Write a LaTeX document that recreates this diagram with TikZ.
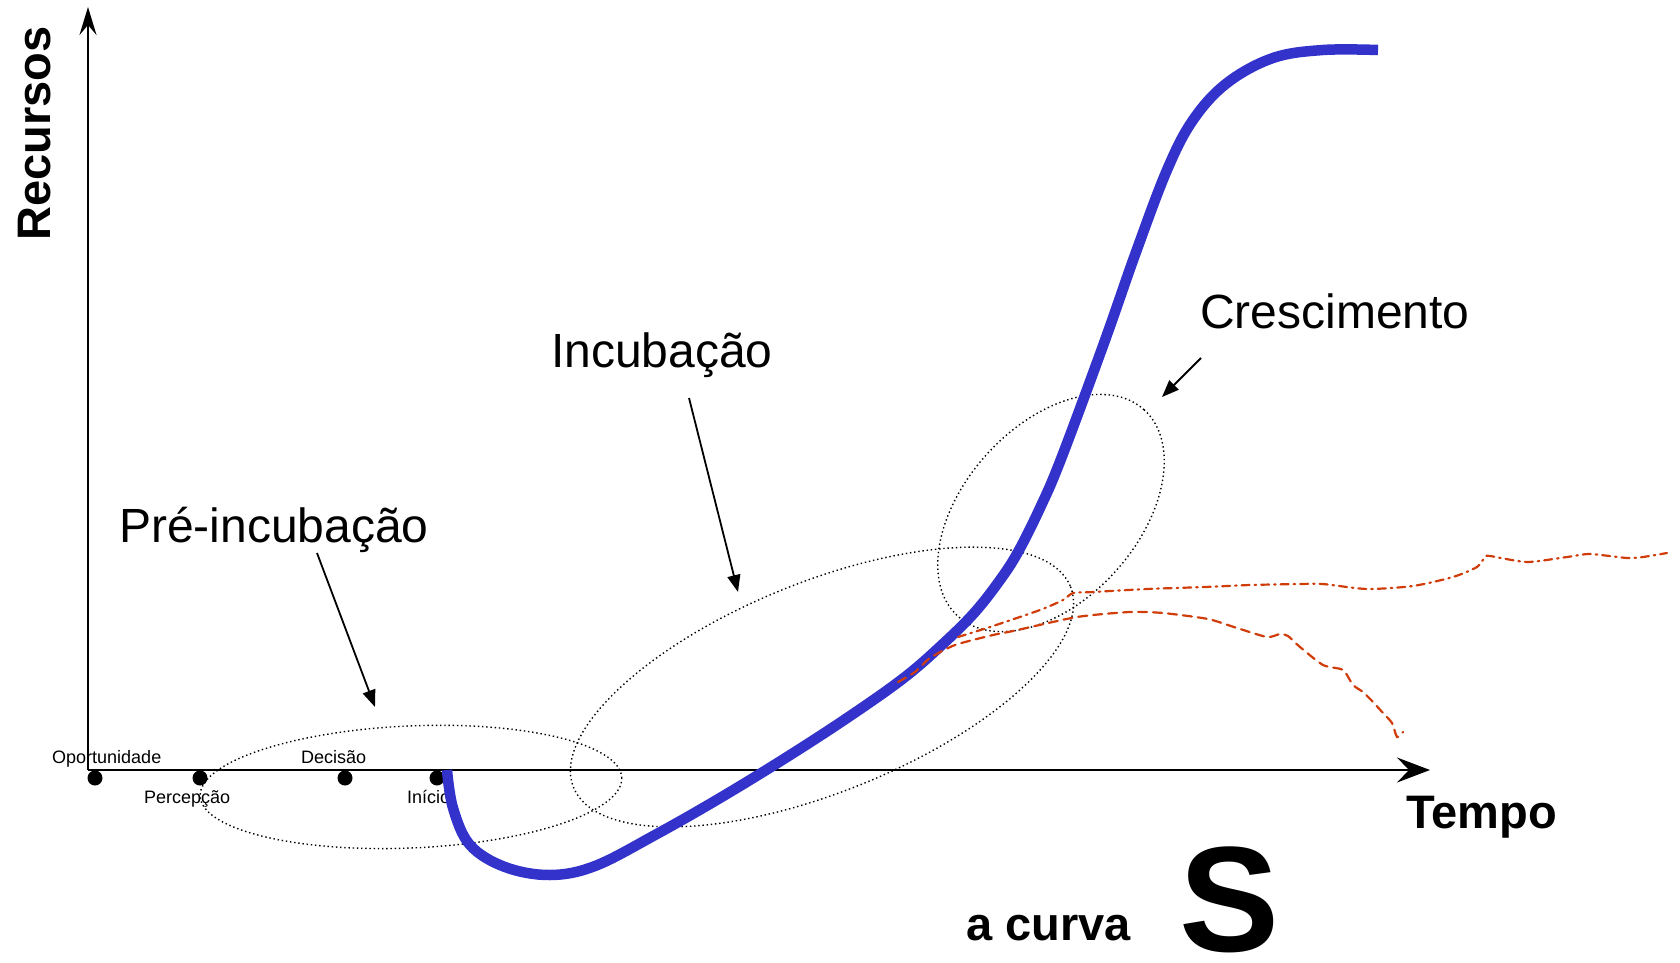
\documentclass[tikz,border=0pt]{standalone}
\usepackage{fontspec}
\setmainfont{Liberation Sans}
\usetikzlibrary{arrows.meta}
\definecolor{curveblue}{RGB}{51,51,204}
\definecolor{trendred}{RGB}{208,60,10}
\tikzset{
	phase/.style={line width=1.4pt, dash pattern=on 1.4pt off 2.8pt},
	phaselabel/.style={anchor=base west, inner sep=0pt, font=\fontsize{48}{48}\selectfont},
	axislabel/.style={anchor=base west, inner sep=0pt, font=\fontsize{47}{47}\selectfont\bfseries},
	milestone/.style={anchor=base west, inner sep=0pt, font=\fontsize{18}{18}\selectfont},
	pointer/.style={line width=1.8pt, -{Triangle[length=17pt,width=13pt]}},
	trend/.style={trendred, line width=2.2pt, line cap=round},
}
\begin{document}
\begin{tikzpicture}[x=1pt,y=-1pt]
		\useasboundingbox (0,0) rectangle (1680,963);
		\coordinate (O) at (88,770);
		\coordinate (ytop) at (88,7);
		\coordinate (xend) at (1430,770);
		\begin{scope}
			\coordinate (D1) at (95,778);
			\coordinate (D2) at (200,778);
			\coordinate (D3) at (345,778);
			\coordinate (D4) at (437,778);
			\coordinate (E1) at (411,787);
			\coordinate (E2) at (822,687);
			\coordinate (E3) at (1051,513);
		\end{scope}
		
		% axes
		\draw[line width=2.6pt, -{Stealth[length=28pt,width=17pt,inset=10pt]}] (O) -- (ytop);
		\draw[line width=2.6pt, -{Stealth[length=33pt,width=25pt,inset=12pt]}] (O) -- (xend);
		\node[axislabel, rotate=90] (recursos) at (50,241) {Recursos};
		\node[axislabel] (tempo) at (1406,828) {Tempo};
		
		% milestones
		\foreach \d in {D1,D2,D3,D4}
			\fill (\d) circle[radius=7.5];
		\node[milestone] (oport) at (52,763) {Oportunidade};
		\node[milestone] (decisao) at (301,763) {Decisão};
		\node[milestone] (percep) at (144,803) {Percepção};
		\node[milestone] (inicio) at (407,803) {Início};
		
		% phases
		\draw[phase, rotate around={2.5:(E1)}] (E1) ellipse [x radius=211, y radius=61];
		\draw[phase, rotate around={22:(E2)}] (E2) ellipse [x radius=268, y radius=105];
		\draw[phase, rotate around={48:(E3)}] (E3) ellipse [x radius=139, y radius=87];
		
		\draw[curveblue, line width=10.5pt] plot[smooth, tension=0.6] coordinates {
			(447,770) (453,808) (470,845) (505,867) (550,875) (595,866) (655,835)
			(720,798) (787,757) (850,716) (905,677) (945,642) (975,612) (1000,580)
			(1018,552) (1040,508) (1061,459) (1104,343) (1136,252) (1167,170)
			(1193,120) (1227,83) (1273,58) (1323,50) (1378,50)};
		
		\draw[trend, dash pattern=on 8pt off 5pt on 1.5pt off 5pt] plot[smooth, tension=0.4] coordinates {
			(958,637) (990,627) (1040,610) (1063,600) (1073,593) (1093,592) (1147,589)
			(1205,587) (1250,585) (1300,584) (1323,584) (1367,589) (1413,586) (1453,577)
			(1477,567) (1485,557) (1490,556) (1527,562) (1567,557) (1590,554) (1627,558)
			(1643,557) (1667,553)};
		\draw[trend, dash pattern=on 9pt off 6pt] plot[smooth, tension=0.4] coordinates {
			(898,682) (915,672) (930,658) (955,645) (993,635) (1013,631) (1077,617)
			(1130,612) (1163,613) (1208,619) (1237,628) (1267,637) (1280,634) (1288,636)
			(1300,647) (1323,665) (1343,670) (1353,685) (1363,692) (1373,702) (1383,713)
			(1392,723) (1397,737) (1403,732)};
		
		% labels
		\node[phaselabel] (preinc) at (119,542) {Pré-incubação};
		\node[phaselabel] (inc) at (551,367) {Incubação};
		\node[phaselabel] (cresc) at (1200,328) {Crescimento};
		\coordinate (p1) at (317,553);
		\coordinate (q1) at (375,707);
		\coordinate (p2) at (689,398);
		\coordinate (q2) at (738,592);
		\coordinate (p3) at (1201,358);
		\coordinate (q3) at (1162,397);
		\draw[pointer] (p1) -- (q1);
		\draw[pointer] (p2) -- (q2);
		\draw[pointer] (p3) -- (q3);
		
		\node[axislabel] (acurva) at (966,940) {a curva};
		\node[anchor=base west, inner sep=0pt, font=\fontsize{150}{150}\selectfont\bfseries] (bigS) at (1179,951) {S};
	\end{tikzpicture}
\end{document}
